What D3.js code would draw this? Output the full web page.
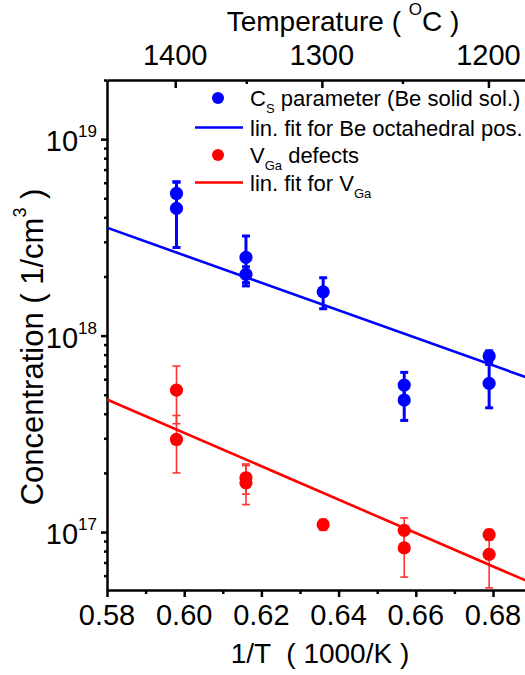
<!DOCTYPE html>
<html>
<head>
<meta charset="utf-8">
<script src="https://cdn.jsdelivr.net/npm/d3@7"></script>
<style>
  body { margin: 0; background: #fff; }
  svg { display: block; font-family: "Liberation Sans", Arial, sans-serif; }
</style>
</head>
<body>
<svg id="chart" width="525" height="675"></svg>
<script>
// 1/T (1000/K) for each measurement
const invT = [0.598, 0.598, 0.616, 0.616, 0.636, 0.657, 0.657, 0.679, 0.679];

// Cs parameter (Be solid solution), 1/cm^3
const csValues = [5.29e18, 4.44e18, 2.50e18, 2.05e18, 1.67e18, 5.60e17, 4.70e17, 7.87e17, 5.71e17];
const csErrors = [0.75e18, 1.63e18, 0.71e18, 0.19e18, 0.30e18, 0.9e17, 1.0e17, 0.5e17, 1.42e17];

// VGa defects, 1/cm^3
const vgaValues = [5.28e17, 2.96e17, 1.89e17, 1.78e17, 1.09e17, 1.02e17, 8.3e16, 9.7e16, 7.7e16];
const vgaErrors = [1.72e17, 0.96e17, 0.33e17, 0.40e17, 0.07e17, 0.16e17, 2.4e16, 0.6e16, 2.5e16];

// linear fits (end points)
const fitX = [0.58, 0.69];
const csFit = [3.54e18, 6.0e17];
const vgaFit = [4.73e17, 5.5e16];

// tick values
const xMajor = [0.58, 0.60, 0.62, 0.64, 0.66, 0.68];
const xMinor = [0.59, 0.61, 0.63, 0.65, 0.67, 0.69];
const tempMajor = [1400, 1300, 1200];
const tempMinor = [1350, 1250];
const yMajor = [1e17, 1e18, 1e19];
const yExponents = [17, 18, 19];

const blue = '#0000ff';
const red = '#ff0000';

const plotLeft = 107, plotRight = 531.6, plotTop = 80, plotBottom = 590;

const svg = d3.select('#chart');

const x = d3.scaleLinear().domain([0.58, 0.69]).range([plotLeft, plotRight]);
const y = d3.scaleLog().domain([5.07e16, 2.0e19]).range([plotBottom, plotTop]);

// minor log ticks 2..9 per decade
const yMinor = [];
[16, 17, 18, 19].forEach(e => {
  for (let m = 2; m <= 9; m++) {
    const v = m * Math.pow(10, e);
    if (v >= y.domain()[0] && v <= y.domain()[1]) yMinor.push(v);
  }
});

const tempToX = t => 1000 / (t + 273.15);

svg.append('defs').append('clipPath').attr('id', 'plot-clip')
  .append('rect')
  .attr('x', plotLeft).attr('y', plotTop)
  .attr('width', plotRight - plotLeft).attr('height', plotBottom - plotTop);

const styleAxis = g => {
  g.select('.domain').attr('stroke', '#000').attr('stroke-width', 2.5);
  g.selectAll('.tick line').attr('stroke', '#000').attr('stroke-width', 2.5);
};

// bottom axis
svg.append('g')
  .attr('transform', `translate(0,${plotBottom})`)
  .call(d3.axisBottom(x).tickValues(xMinor).tickSize(4).tickSizeOuter(0).tickFormat(''))
  .call(styleAxis);
svg.append('g')
  .attr('transform', `translate(0,${plotBottom})`)
  .call(d3.axisBottom(x).tickValues(xMajor).tickSize(7).tickSizeOuter(0).tickFormat(''))
  .call(styleAxis)
  .call(g => g.select('.domain').remove());

svg.append('g')
  .selectAll('text')
  .data(xMajor)
  .enter()
  .append('text')
  .attr('x', d => x(d))
  .attr('y', 625)
  .attr('text-anchor', 'middle')
  .attr('font-size', 29)
  .text(d3.format('.2f'));

// top axis (temperature in C), ticks pointing inward
svg.append('g')
  .attr('transform', `translate(0,${plotTop})`)
  .call(d3.axisBottom(x).tickValues(tempMinor.map(tempToX)).tickSize(4).tickSizeOuter(0).tickFormat(''))
  .call(styleAxis);
svg.append('g')
  .attr('transform', `translate(0,${plotTop})`)
  .call(d3.axisBottom(x).tickValues(tempMajor.map(tempToX)).tickSize(8).tickSizeOuter(0).tickFormat(''))
  .call(styleAxis)
  .call(g => g.select('.domain').remove());

svg.append('g')
  .selectAll('text')
  .data(tempMajor)
  .enter()
  .append('text')
  .attr('x', d => x(tempToX(d)))
  .attr('y', 65)
  .attr('text-anchor', 'middle')
  .attr('font-size', 29)
  .text(d => d);

// left axis (log)
svg.append('g')
  .attr('transform', `translate(${plotLeft},0)`)
  .call(d3.axisLeft(y).tickValues(yMinor).tickSize(3).tickSizeOuter(0).tickFormat(''))
  .call(styleAxis);
svg.append('g')
  .attr('transform', `translate(${plotLeft},0)`)
  .call(d3.axisLeft(y).tickValues(yMajor).tickSize(6).tickSizeOuter(0).tickFormat(''))
  .call(styleAxis)
  .call(g => g.select('.domain').remove());

const yLabels = svg.append('g')
  .selectAll('text')
  .data(yMajor)
  .enter()
  .append('text')
  .attr('x', 97)
  .attr('y', d => y(d) + 12)
  .attr('text-anchor', 'end')
  .attr('font-size', 29);
yLabels.append('tspan').text('10');
yLabels.append('tspan')
  .attr('font-size', 17)
  .attr('dy', -14)
  .text((d, i) => yExponents[i]);

// axis titles
const topTitle = svg.append('text')
  .attr('x', 343).attr('y', 31)
  .attr('text-anchor', 'middle')
  .attr('font-size', 28);
topTitle.append('tspan').text('Temperature ( ');
topTitle.append('tspan').attr('font-size', 17).attr('dy', -16).text('O');
topTitle.append('tspan').attr('dy', 16).text('C )');

svg.append('text')
  .attr('x', 320).attr('y', 663)
  .attr('text-anchor', 'middle')
  .attr('font-size', 28)
  .attr('xml:space', 'preserve')
  .style('white-space', 'pre')
  .text('1/T  ( 1000/K )');

const yTitle = svg.append('text')
  .attr('transform', 'translate(43,347) rotate(-90)')
  .attr('text-anchor', 'middle')
  .attr('font-size', 31);
yTitle.append('tspan').text('Concentration ( 1/cm');
yTitle.append('tspan').attr('font-size', 18).attr('dy', -17).text('3');
yTitle.append('tspan').attr('dy', 17).text(' )');

// plot contents
const plot = svg.append('g').attr('clip-path', 'url(#plot-clip)');

const line = d3.line().x(d => x(d[0])).y(d => y(d[1]));

const drawSeries = (values, errors, fit, color, errWidth, errOpacity) => {
  plot.append('path')
    .datum(fitX.map((v, i) => [v, fit[i]]))
    .attr('d', line)
    .attr('fill', 'none')
    .attr('stroke', color)
    .attr('stroke-width', 2.6);

  const pts = invT.map((v, i) => ({ x: v, y: values[i], e: errors[i] }));

  const bars = plot.append('g')
    .attr('stroke', color)
    .attr('stroke-width', errWidth)
    .attr('opacity', errOpacity)
    .selectAll('g')
    .data(pts)
    .enter()
    .append('g');
  bars.append('line')
    .attr('x1', d => x(d.x)).attr('x2', d => x(d.x))
    .attr('y1', d => y(d.y + d.e)).attr('y2', d => y(d.y - d.e));
  bars.append('line')
    .attr('x1', d => x(d.x) - 4).attr('x2', d => x(d.x) + 4)
    .attr('y1', d => y(d.y + d.e)).attr('y2', d => y(d.y + d.e));
  bars.append('line')
    .attr('x1', d => x(d.x) - 4).attr('x2', d => x(d.x) + 4)
    .attr('y1', d => y(d.y - d.e)).attr('y2', d => y(d.y - d.e));

  plot.append('g')
    .selectAll('circle')
    .data(pts)
    .enter()
    .append('circle')
    .attr('cx', d => x(d.x))
    .attr('cy', d => y(d.y))
    .attr('r', 6.6)
    .attr('fill', color);
};

drawSeries(csValues, csErrors, csFit, blue, 3, 1);
drawSeries(vgaValues, vgaErrors, vgaFit, red, 1.6, 0.8);

// legend
const legend = svg.append('g').attr('font-size', 22);
const rows = [
  { type: 'dot', color: blue, y: 98, text: 'C', sub: 'S', rest: ' parameter (Be solid sol.)' },
  { type: 'line', color: blue, y: 127.5, text: 'lin. fit for Be octahedral pos.' },
  { type: 'dot', color: red, y: 155, text: 'V', sub: 'Ga', rest: ' defects' },
  { type: 'line', color: red, y: 182.5, text: 'lin. fit for V', sub: 'Ga' }
];
rows.forEach(r => {
  if (r.type === 'dot') {
    legend.append('circle').attr('cx', 218).attr('cy', r.y).attr('r', 6).attr('fill', r.color);
  } else {
    legend.append('line')
      .attr('x1', 195).attr('x2', 243)
      .attr('y1', r.y).attr('y2', r.y)
      .attr('stroke', r.color).attr('stroke-width', 2.6);
  }
  const t = legend.append('text').attr('x', 250).attr('y', r.y + 8).attr('xml:space', 'preserve');
  t.append('tspan').text(r.text);
  if (r.sub) {
    t.append('tspan').attr('font-size', 13).attr('dy', 7).text(r.sub);
    if (r.rest) t.append('tspan').attr('dy', -7).text(r.rest);
  }
});
</script>
</body>
</html>
